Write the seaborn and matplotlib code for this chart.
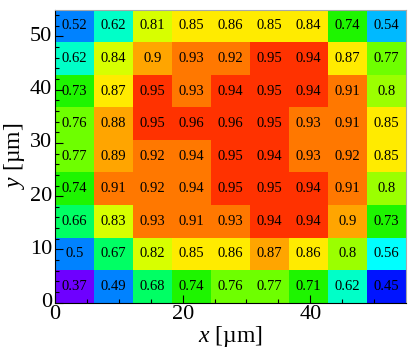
import numpy as np
import matplotlib
matplotlib.use("Agg")
import matplotlib.pyplot as plt
import seaborn as sns
from matplotlib.colors import ListedColormap, BoundaryNorm

# efficiency map, rows from bottom (y=0) to top
row_y0 = [0.37, 0.49, 0.68, 0.74, 0.76, 0.77, 0.71, 0.62, 0.45]
row_y1 = [0.50, 0.67, 0.82, 0.85, 0.86, 0.874, 0.86, 0.80, 0.56]
row_y2 = [0.66, 0.83, 0.93, 0.91, 0.93, 0.944, 0.944, 0.90, 0.73]
row_y3 = [0.74, 0.91, 0.92, 0.936, 0.95, 0.95, 0.944, 0.91, 0.80]
row_y4 = [0.77, 0.89, 0.92, 0.936, 0.95, 0.944, 0.93, 0.92, 0.85]
row_y5 = [0.76, 0.88, 0.95, 0.96, 0.96, 0.95, 0.93, 0.91, 0.85]
row_y6 = [0.73, 0.866, 0.95, 0.93, 0.944, 0.95, 0.944, 0.91, 0.80]
row_y7 = [0.62, 0.837, 0.90, 0.93, 0.92, 0.95, 0.944, 0.866, 0.77]
row_y8 = [0.52, 0.62, 0.81, 0.85, 0.86, 0.85, 0.843, 0.74, 0.54]

x_ticks = [0, 20, 40]
y_ticks = [0, 10, 20, 30, 40, 50]
size_um = 55.0

data = np.array([row_y0, row_y1, row_y2, row_y3, row_y4,
                 row_y5, row_y6, row_y7, row_y8])
labels = np.vectorize(lambda v: f"{round(v, 2):g}")(data)
cell = size_um / data.shape[1]

# ROOT-like rainbow palette, discrete levels
palette = [(110, 0, 255), (0, 20, 255), (0, 130, 255), (0, 185, 255),
           (0, 255, 255), (0, 255, 200), (0, 255, 100), (30, 245, 0),
           (110, 255, 0), (155, 255, 0), (215, 255, 0), (255, 235, 0),
           (255, 165, 0), (255, 120, 0), (255, 50, 0)]
bounds = [0.3, 0.41, 0.47, 0.53, 0.55, 0.59, 0.64, 0.70, 0.75, 0.79,
          0.805, 0.84, 0.87, 0.905, 0.94, 1.0]
cmap = ListedColormap([tuple(c / 255 for c in rgb) for rgb in palette])
norm = BoundaryNorm(bounds, cmap.N)

plt.rcParams['font.family'] = ['Liberation Serif', 'DejaVu Serif']
plt.rcParams['mathtext.fontset'] = 'custom'
plt.rcParams['mathtext.it'] = 'Liberation Serif:italic'
plt.rcParams['mathtext.rm'] = 'Liberation Serif'

fig = plt.figure(figsize=(4.19, 3.53), dpi=100)
ax = fig.add_axes([55 / 419, 1 - 302.7 / 353, 351 / 419, 293 / 353])

sns.heatmap(data, ax=ax, cmap=cmap, norm=norm, cbar=False,
            annot=labels, fmt="", annot_kws={"color": "black", "fontsize": 10.5})
ax.invert_yaxis()

ax.set_xticks([t / cell for t in x_ticks])
ax.set_xticklabels([str(t) for t in x_ticks], rotation=0)
ax.set_xticks(np.arange(0, size_um, 5) / cell, minor=True)
ax.set_yticks([t / cell for t in y_ticks])
ax.set_yticklabels([str(t) for t in y_ticks], rotation=0)
ax.set_yticks(np.arange(0, size_um, 2) / cell, minor=True)
ax.set_xlim(0, data.shape[1])
ax.set_ylim(0, data.shape[0])

ax.tick_params(which='both', direction='in', labelsize=16, pad=2,
               bottom=True, left=True, top=False, right=False)
ax.tick_params(which='major', length=6, width=0.8)
ax.tick_params(which='minor', length=3, width=0.8)

for side in ['left', 'bottom']:
    ax.spines[side].set_visible(True)
    ax.spines[side].set_color('black')
    ax.spines[side].set_linewidth(0.8)
for side in ['top', 'right']:
    ax.spines[side].set_visible(True)
    ax.spines[side].set_color('#a8a8a8')
    ax.spines[side].set_linewidth(0.8)

ax.set_xlabel(r"$x$ [µm]", fontsize=17, labelpad=0)
ax.set_ylabel(r"$y$ [µm]", fontsize=17, labelpad=2)

fig.savefig("out.png", dpi=100)
